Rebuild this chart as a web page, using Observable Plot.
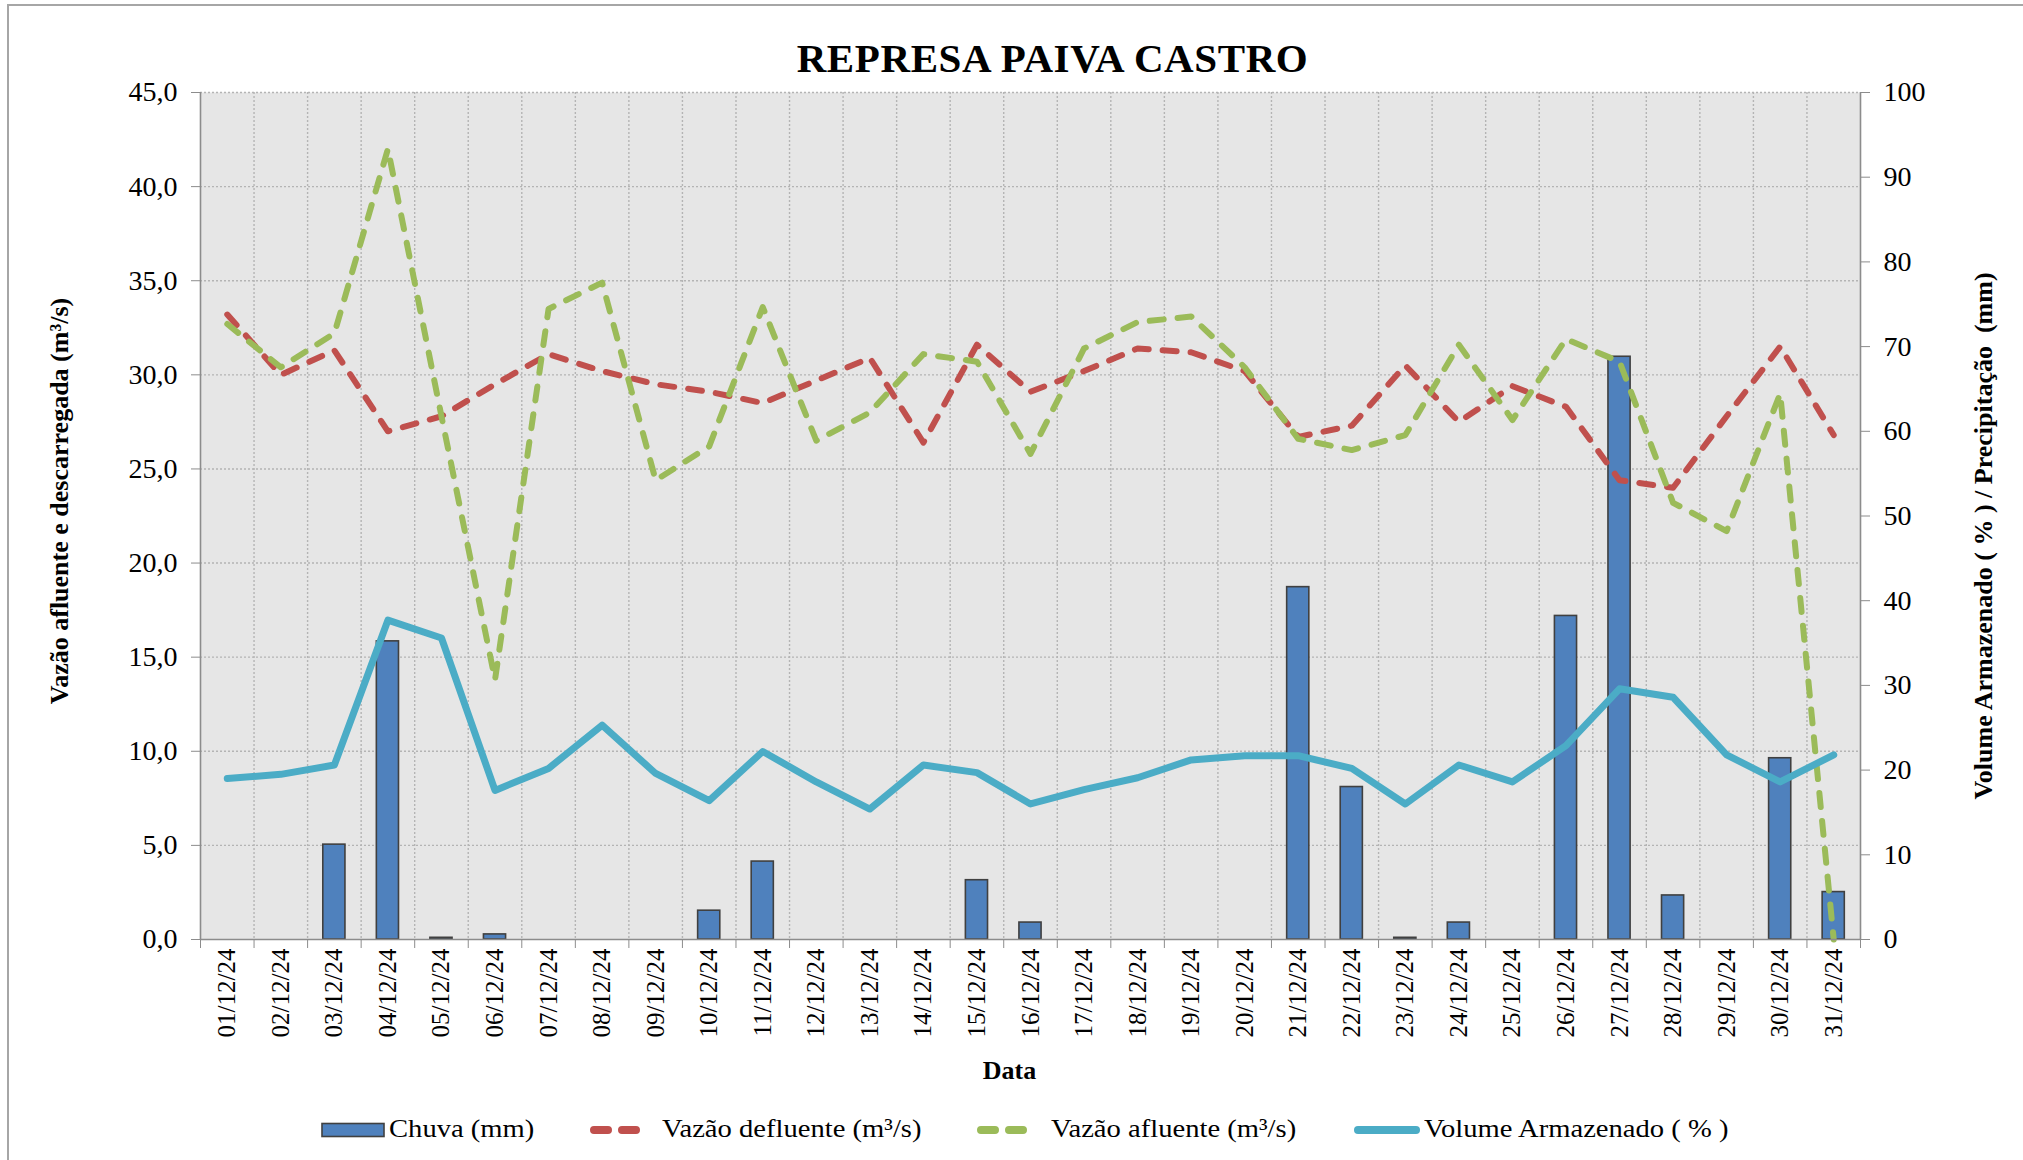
<!DOCTYPE html>
<html><head><meta charset="utf-8">
<script src="https://cdn.jsdelivr.net/npm/d3@7"></script>
<script src="https://cdn.jsdelivr.net/npm/@observablehq/plot@0.6"></script>
<style>
html,body{margin:0;padding:0;background:#fff;}
body{width:2023px;height:1160px;overflow:hidden;position:relative;font-family:"Liberation Serif","Times New Roman",serif;color:#000;}
#frame{position:absolute;left:7px;top:4px;width:2100px;height:1300px;border-left:2px solid #a6a6a6;border-top:2px solid #a6a6a6;box-sizing:border-box;}
#chart{position:absolute;left:0;top:0;}
.leg{position:absolute;font-size:26px;line-height:26px;white-space:nowrap;transform:scaleX(1.1);transform-origin:0 50%;}
.sw{position:absolute;}
</style></head>
<body>
<div id="frame"></div>
<div id="chart"></div>
<div id="legend"></div>
<script>
const title = "REPRESA PAIVA CASTRO";
const dates = ["01/12/24","02/12/24","03/12/24","04/12/24","05/12/24","06/12/24","07/12/24","08/12/24","09/12/24","10/12/24","11/12/24","12/12/24","13/12/24","14/12/24","15/12/24","16/12/24","17/12/24","18/12/24","19/12/24","20/12/24","21/12/24","22/12/24","23/12/24","24/12/24","25/12/24","26/12/24","27/12/24","28/12/24","29/12/24","30/12/24","31/12/24"];
const chuva = [0,0,11.2,35.2,0.2,0.6,0,0,0,3.4,9.2,0,0,0,7.0,2.0,0,0,0,0,41.6,18.0,0.2,2.0,0,38.2,68.8,5.2,0,21.4,5.6];
const defluente = [33.2,30.0,31.3,27.0,27.8,29.5,31.1,30.2,29.5,29.1,28.5,29.7,30.9,26.4,31.6,29.1,30.2,31.4,31.2,30.2,26.7,27.3,30.5,27.5,29.4,28.3,24.4,24.0,27.8,31.5,26.8];
const afluente = [32.7,30.4,32.2,42.0,27.8,13.8,33.5,34.9,24.4,26.2,33.6,26.5,28.0,31.1,30.7,25.8,31.4,32.8,33.1,30.4,26.6,26.0,26.8,31.6,27.6,31.9,30.7,23.2,21.7,29.0,0.0];
const volume = [19.0,19.5,20.6,37.7,35.6,17.6,20.2,25.3,19.6,16.4,22.2,18.6,15.4,20.6,19.7,16.0,17.7,19.1,21.2,21.7,21.7,20.2,16.0,20.6,18.6,22.9,29.6,28.6,21.8,18.6,21.8];
const leftTicks = [0,5,10,15,20,25,30,35,40,45];
const rightTicks = [0,10,20,30,40,50,60,70,80,90,100];
const seriesNames = ["Chuva (mm)","Vazão defluente (m³/s)","Vazão afluente (m³/s)","Volume Armazenado ( % )"];
const leftLabel = "Vazão afluente e descarregada (m³/s)";
const rightLabel = "Volume Armazenado ( % ) / Precipitação  (mm)";
const xLabel = "Data";

const C = {bar:"#4f81bd", red:"#c0504d", green:"#9bbb59", teal:"#4bacc6", axis:"#8c8c8c", grid:"#b4b4b4"};
const k = 45/100; // right axis (0-100) mapped onto left axis (0-45)

const rows = dates.map((d,i)=>({day:i+1, label:d, chuva:chuva[i], def:defluente[i], afl:afluente[i], vol:volume[i]}));
const days = rows.map(r=>r.day);
const bounds = days.map(d=>d-0.5).concat([days.length+0.5]);

const W = 2023, H = 1160;
const mL = 200, mR = 163, mT = 92, mB = 221;

const plot = Plot.plot({
  width: W, height: H,
  marginLeft: mL, marginRight: mR, marginTop: mT, marginBottom: mB,
  style: {fontFamily: "'Liberation Serif','Times New Roman',serif", fontSize: "26px", color: "#000", background: "transparent", overflow: "visible"},
  x: {type: "linear", domain: [0.5, days.length + 0.5]},
  y: {domain: [0, 45]},
  marks: [
    Plot.frame({fill: "#e6e6e6", stroke: null}),
    Plot.ruleY(leftTicks.slice(1), {stroke: C.grid, strokeWidth: 1.4, strokeDasharray: "2,2"}),
    Plot.ruleX(bounds.slice(1, -1), {stroke: C.grid, strokeWidth: 1.4, strokeDasharray: "2,2"}),
    Plot.rectY(rows.filter(r=>r.chuva>0), {x1: d=>d.day-0.5, x2: d=>d.day+0.5, y: d=>d.chuva*k, insetLeft: 15.7, insetRight: 15.7, fill: C.bar, stroke: "#404040", strokeWidth: 1.6}),
    Plot.line(rows, {x: "day", y: "def", stroke: C.red, strokeWidth: 6, strokeDasharray: "14,14", strokeLinecap: "round", strokeLinejoin: "round"}),
    Plot.line(rows, {x: "day", y: "afl", stroke: C.green, strokeWidth: 6, strokeDasharray: "14,14", strokeLinecap: "round", strokeLinejoin: "round"}),
    Plot.line(rows, {x: "day", y: d=>d.vol*k, stroke: C.teal, strokeWidth: 7, strokeLinecap: "round", strokeLinejoin: "round"}),
    Plot.ruleX([bounds[0], bounds[bounds.length-1]], {stroke: C.axis, strokeWidth: 1.6}),
    Plot.ruleY([0], {stroke: C.axis, strokeWidth: 1.6}),
    Plot.axisY(leftTicks, {anchor: "left", tickSize: 9, tickPadding: 14, stroke: C.axis, fill: "#000", fontSize: 28, tickFormat: d=>d.toFixed(1).replace(".", ","), label: null}),
    Plot.axisY(rightTicks.map(t=>t*k), {anchor: "right", tickSize: 9, tickPadding: 14, stroke: C.axis, fill: "#000", fontSize: 28, tickFormat: d=>String(Math.round(d/k)), label: null}),
    Plot.axisX(bounds, {anchor: "bottom", tickSize: 9, stroke: C.axis, tickFormat: ()=>"", label: null}),
    Plot.axisX(days, {anchor: "bottom", tickSize: 0, tickPadding: 9, tickRotate: -90, fill: "#000", fontSize: 25, tickFormat: d=>dates[d-1], label: null}),
    Plot.text([title], {frameAnchor: "top", dx: 22, dy: -34, lineAnchor: "middle", fontSize: 41, fontWeight: "bold", letterSpacing: 0.6}),
    Plot.text([leftLabel], {frameAnchor: "left", textAnchor: "middle", lineAnchor: "middle", rotate: -90, dx: -141, dy: -15, fontWeight: "bold"}),
    Plot.text([rightLabel], {frameAnchor: "right", textAnchor: "middle", lineAnchor: "middle", rotate: -90, dx: 123, dy: 20, fontWeight: "bold"}),
    Plot.text([xLabel], {frameAnchor: "bottom", textAnchor: "middle", lineAnchor: "middle", dx: -21, dy: 131, fontWeight: "bold"})
  ]
});
// letter-spacing on the title text
d3.select(plot).selectAll("text").filter(function(){ return this.textContent === title; }).style("letter-spacing", "0.6px");
document.getElementById("chart").appendChild(plot);

// legend
const leg = document.getElementById("legend");
const items = [
  {type:"bar", color:C.bar, sx:322, sw:62, tx:389},
  {type:"dash", color:C.red, sx:591, sw:56, tx:662},
  {type:"dash", color:C.green, sx:978, sw:56, tx:1051},
  {type:"solid", color:C.teal, sx:1355, sw:64, tx:1424}
];
const cy = 1130;
items.forEach((it,i)=>{
  const svg = d3.create("svg").attr("class","sw").attr("width", it.sw+10).attr("height", 24)
    .style("left", (it.sx-5)+"px").style("top", (cy-12)+"px");
  if (it.type==="bar") {
    svg.append("rect").attr("x",5).attr("y",5.5).attr("width",it.sw).attr("height",13).attr("fill",it.color).attr("stroke","#404040").attr("stroke-width",1.6);
  } else if (it.type==="dash") {
    svg.append("line").attr("x1",8).attr("x2",it.sw+2).attr("y1",12).attr("y2",12).attr("stroke",it.color).attr("stroke-width",8).attr("stroke-linecap","round").attr("stroke-dasharray","14,14");
  } else {
    svg.append("line").attr("x1",8).attr("x2",it.sw+2).attr("y1",12).attr("y2",12).attr("stroke",it.color).attr("stroke-width",8).attr("stroke-linecap","round");
  }
  leg.appendChild(svg.node());
  const t = document.createElement("div");
  t.className = "leg"; t.textContent = seriesNames[i];
  t.style.left = it.tx+"px"; t.style.top = (cy-14)+"px";
  leg.appendChild(t);
});
</script>
</body></html>
